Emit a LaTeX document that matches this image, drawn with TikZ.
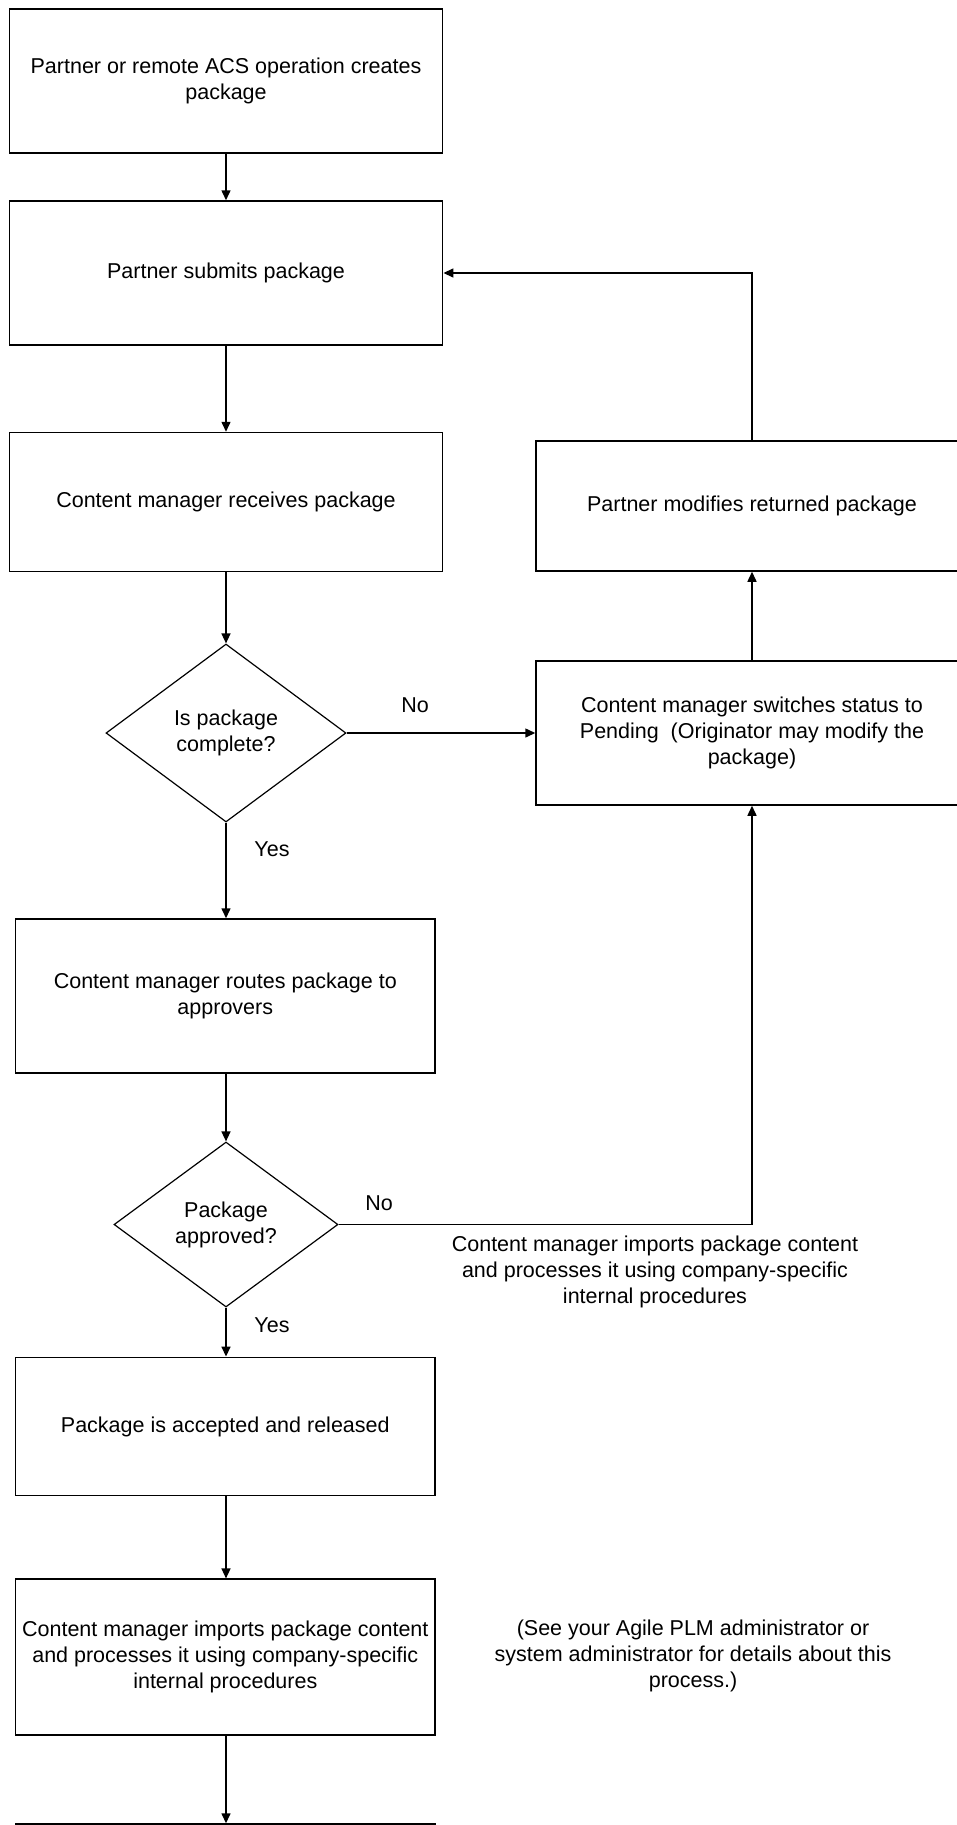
\documentclass[tikz,border=0pt]{standalone}
\usepackage{fontspec}
\setmainfont{Liberation Sans}
\usetikzlibrary{arrows.meta,shapes.geometric}
\begin{document}
\begin{tikzpicture}[x=1pt,y=-1pt,
  every node/.style={font=\fontsize{21.5}{26}\selectfont},
  box/.style={draw, line width=1.5pt, rectangle, align=center, inner sep=0pt},
  dec/.style={draw, line width=1.2pt, diamond, align=center, inner sep=0pt},
  lbl/.style={align=center, inner sep=0pt},
  arr/.style={line width=1.5pt, -{Triangle[length=10pt,width=9pt]}},
  ln/.style={line width=1.5pt}]
\useasboundingbox (0,0) rectangle (957,1825);
\node[box, minimum width=433.4pt, minimum height=144pt] (b1) at (226,81) {Partner or remote ACS operation creates\\package};
\node[box, minimum width=433.4pt, minimum height=144pt] (b2) at (226,273) {Partner submits package};
\node[box, minimum width=433.4pt, minimum height=139pt] (b3) at (226,502) {Content manager receives package};
\node[dec, minimum width=240pt, minimum height=178pt] (d1) at (226,733) {Is package\\complete?};
\node[box, minimum width=419.3pt, minimum height=154pt] (b4) at (225.3,996) {Content manager routes package to\\approvers};
\node[dec, minimum width=224pt, minimum height=165pt] (d2) at (226,1224.5) {Package\\approved?};
\node[box, minimum width=419.3pt, minimum height=138.4pt] (b5) at (225.3,1426.5) {Package is accepted and released};
\node[box, minimum width=419.3pt, minimum height=155.7pt] (b6) at (225.3,1657) {Content manager imports package content\\and processes it using company-specific\\internal procedures};
\node[box, minimum width=419.3pt, minimum height=150pt] (b7) at (225.3,1899) {};
\node[box, minimum width=432pt, minimum height=130pt] (bm) at (752,506) {Partner modifies returned package};
\node[box, minimum width=432pt, minimum height=144pt] (bp) at (752,733) {Content manager switches status to\\Pending\ \ (Originator may modify the\\package)};
\node[lbl] (t1) at (655,1272) {Content manager imports package content\\and processes it using company-specific\\internal procedures};
\node[lbl] (t2) at (693,1656) {(See your Agile PLM administrator or\\system administrator for details about this\\process.)};
\node[lbl] (no1) at (415,705) {No};
\node[lbl] (yes1) at (272,849) {Yes};
\node[lbl] (no2) at (379,1203) {No};
\node[lbl] (yes2) at (272,1325) {Yes};
\draw[arr] (b1.south) -- (b2.north);
\draw[arr] (b2.south) -- (b3.north);
\draw[arr] (b3.south) -- (d1.north);
\draw[arr] (d1.south) -- (b4.north -| d1.south);
\draw[arr] (b4.south -| d1.south) -- (d2.north);
\draw[arr] (d2.south) -- (b5.north -| d2.south);
\draw[arr] (b5.south -| d2.south) -- (b6.north -| d2.south);
\draw[arr] (b6.south -| d2.south) -- (b7.north -| d2.south);
\draw[arr] (d1.east) -- (bp.west);
\draw[arr] (d2.east) -| (bp.south);
\draw[arr] (bp.north) -- (bm.south);
\draw[arr] (bm.north) |- (b2.east);
\end{tikzpicture}
\end{document}
